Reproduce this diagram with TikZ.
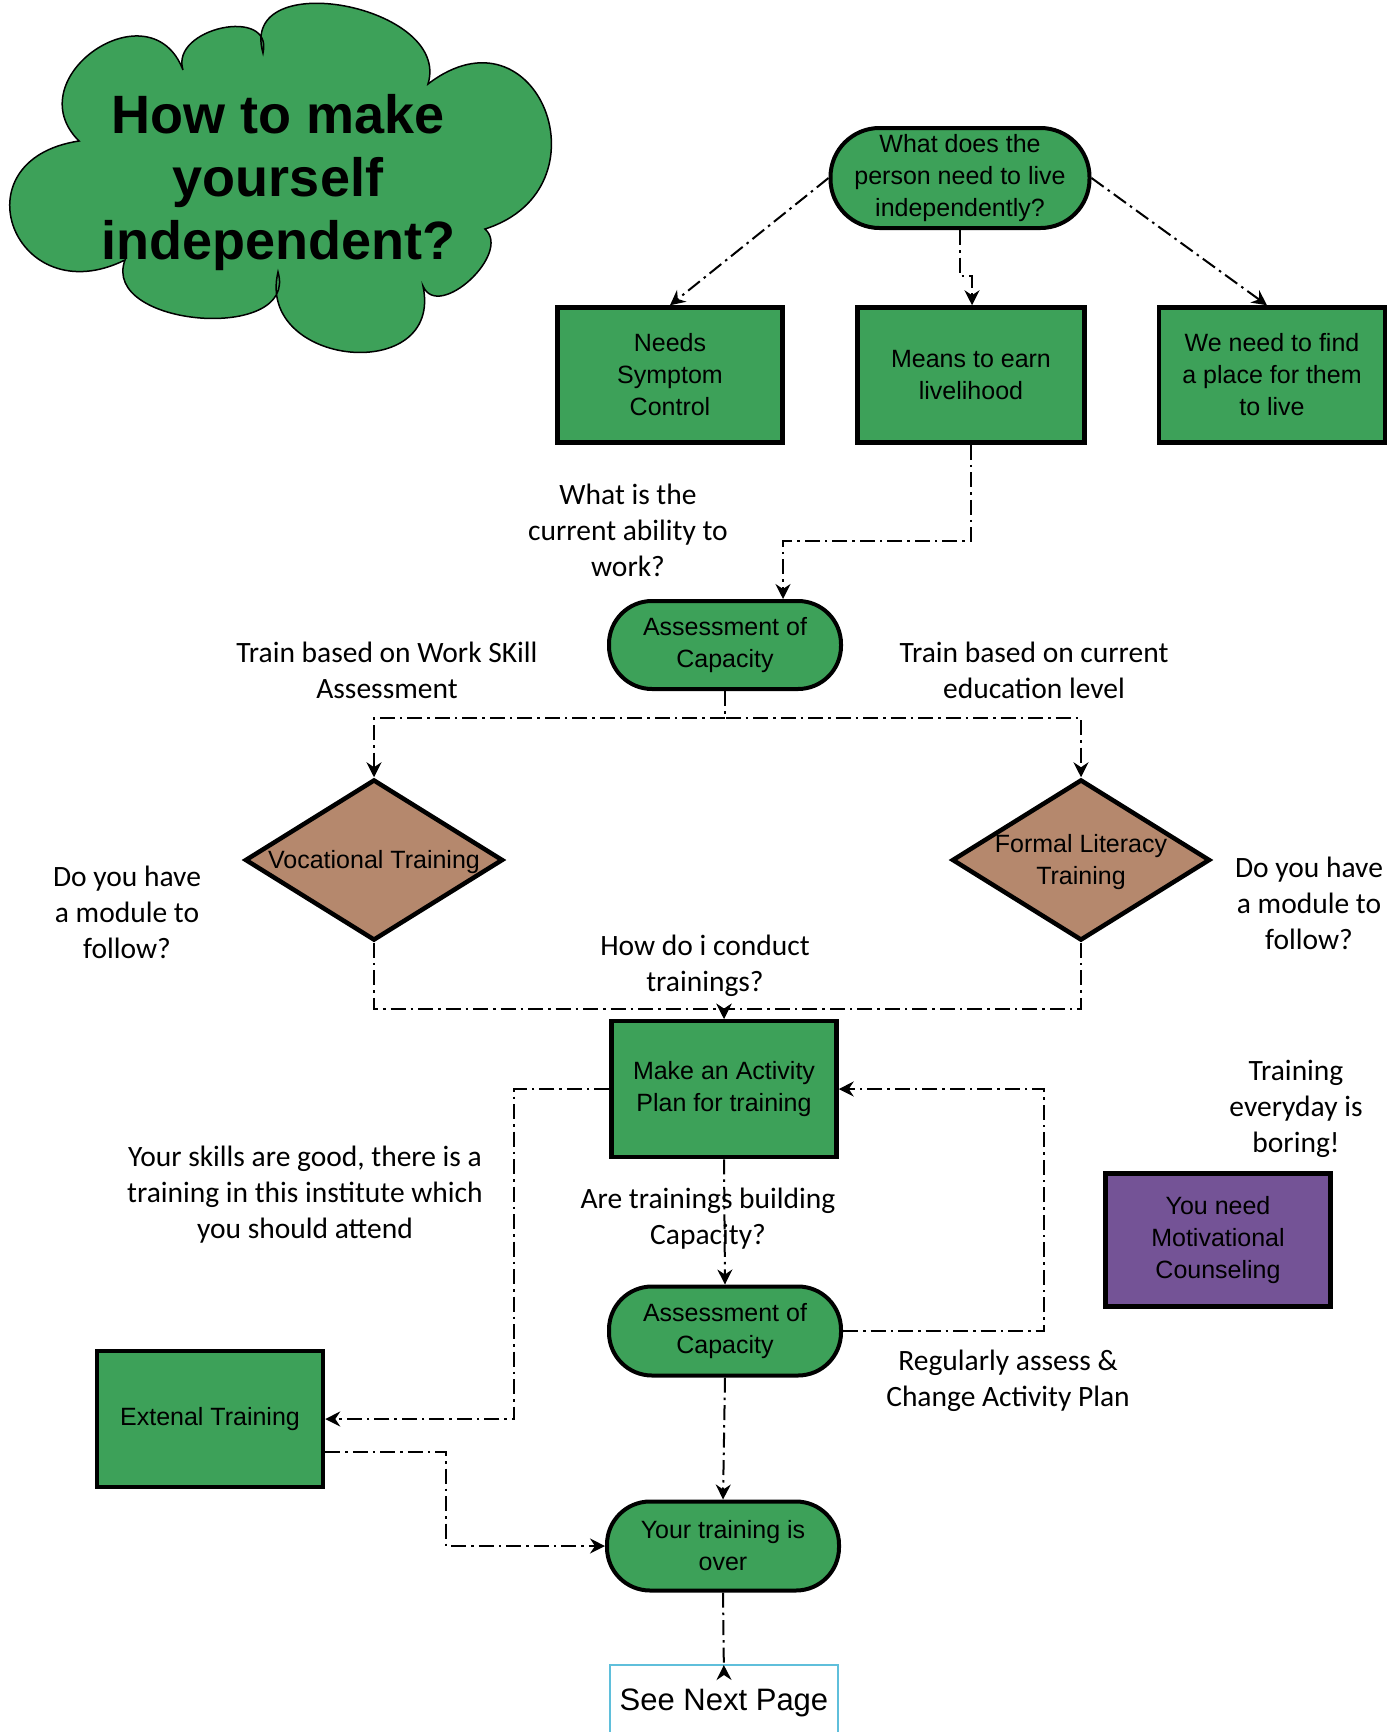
\documentclass[tikz,border=0pt]{standalone}
\usepackage{fontspec}
\setmainfont{Liberation Sans}
\newfontfamily\calfont{Carlito}
\usetikzlibrary{shapes.geometric,arrows.meta}
\definecolor{boxgreen}{RGB}{61,161,89}
\definecolor{diabrown}{RGB}{181,136,109}
\definecolor{motpurple}{RGB}{116,83,150}
\definecolor{pageblue}{RGB}{95,191,219}
\tikzset{
  boxtxt/.style={font=\fontsize{25}{32}\selectfont, align=center, text=black},
  sqbox/.style={boxtxt, draw=black, line width=4.5pt, fill=boxgreen, minimum width=225pt, minimum height=135pt, inner sep=0pt},
  pill/.style={boxtxt, draw=black, line width=4pt, fill=boxgreen, minimum width=232pt, minimum height=88pt, inner sep=0pt, rounded corners=43pt},
  dia/.style={diamond, aspect=1.6, draw=black, line width=4.5pt, fill=diabrown, minimum width=258pt, minimum height=161pt, inner sep=0pt},
  diatxt/.style={boxtxt, inner sep=0pt},
  lbl/.style={font=\calfont\fontsize{29.5}{36}\selectfont, align=center, text=black, inner sep=0pt},
  conn/.style={line width=2pt, dash pattern=on 15pt off 5pt on 2.5pt off 5pt},
  tip/.style={-{Stealth[length=15pt,width=15pt,inset=5pt]}},
}
\begin{document}
\begin{tikzpicture}[x=1pt,y=-1pt]
\useasboundingbox (0,0) rectangle (1400,1732);

% cloud
\draw[line width=1.5pt, fill=boxgreen]
  (79,141) .. controls (15.4,77.7) and (150.6,-14.7) .. (183,70)
  .. controls (169.7,27.9) and (273.7,5.8) .. (263,53)
  .. controls (237.6,-35) and (452,5.4) .. (428,84)
  .. controls (537.5,0.25) and (611.5,188.75) .. (485,229)
  .. controls (512.5,253.3) and (438.1,321.7) .. (423,286)
  .. controls (444,385.4) and (255.5,367.2) .. (278,272)
  .. controls (299,343.1) and (100,327.5) .. (125,260)
  .. controls (14.6,314.6) and (-45.2,159.9) .. (79,141) -- cycle;
\node[font=\bfseries\fontsize{54}{63}\selectfont, align=center, inner sep=0pt] (title) at (278,183) {How to make\\yourself\\independent?};

% nodes
\node[pill, minimum width=259pt, minimum height=100pt, rounded corners=49pt] (q) at (960,178) {What does the\\person need to live\\independently?};
\node[sqbox] (needs) at (670,375) {Needs\\Symptom\\Control};
\node[sqbox, minimum width=227pt] (means) at (971,375) {Means to earn\\livelihood};
\node[sqbox, minimum width=226pt] (place) at (1272,375) {We need to find\\a place for them\\to live};
\node[pill] (ac1) at (725,645) {Assessment of\\Capacity};
\node[dia] (voc) at (374,860) {};
\node[diatxt] (voct) at ([yshift=-2pt]voc.center) {Vocational Training};
\node[dia] (lit) at (1081,860) {};
\node[diatxt] (litt) at ([yshift=-2pt]lit.center) {Formal Literacy\\Training};
\node[sqbox, minimum height=136pt] (plan) at (724,1089) {Make an Activity\\Plan for training};
\node[pill, minimum height=89pt] (ac2) at (725,1331) {Assessment of\\Capacity};
\node[sqbox, minimum width=226pt, minimum height=136pt] (ext) at (210,1419) {Extenal Training};
\node[pill, minimum height=89pt] (over) at (723,1546) {Your training is\\over};
\node[sqbox, fill=motpurple, minimum height=133pt] (mot) at (1218,1240) {You need\\Motivational\\Counseling};
\node[draw=pageblue, line width=2pt, minimum width=228pt, minimum height=76pt, inner sep=0pt, font=\fontsize{31}{36}\selectfont] (next) at (724,1703) {See Next Page};

% labels
\node[lbl] (l1) at (628,530) {What is the\\current ability to\\work?};
\node[lbl] (l2) at (387,670) {Train based on Work SKill\\Assessment};
\node[lbl] (l3) at (1034,670) {Train based on current\\education level};
\node[lbl] (l4) at (127,912) {Do you have\\a module to\\follow?};
\node[lbl] (l5) at (1309,903) {Do you have\\a module to\\follow?};
\node[lbl] (l6) at (705,966) {How do i conduct\\trainings?};
\node[lbl] (l7) at (305,1195) {Your skills are good, there is a\\training in this institute which\\you should attend};
\node[lbl] (l8) at (708,1219) {Are trainings building\\Capacity?};
\node[lbl] (l9) at (1008,1381) {Regularly assess \&\\Change Activity Plan};
\node[lbl] (l10) at (1296,1109) {Training\\everyday is\\boring!};

% connectors
\draw[conn, tip] (q.west) -- (needs.north);
\draw[conn, tip] (q.south) -- ++(0,46) -| ([xshift=1pt]means.north);
\draw[conn, tip] (q.east) -- ([xshift=-5pt]place.north);
\draw[conn, tip] (means.south) -- ++(0,96) -| ([xshift=58pt]ac1.north);
\draw[conn, tip] (ac1.south) -- ++(0,27) -| (voc.north);
\draw[conn, tip] (ac1.south) -- ++(0,27) -| (lit.north);
\draw[conn, tip] (voc.south) -- ++(0,66) -| (plan.north);
\draw[conn, tip] (lit.south) -- ++(0,66) -| (plan.north);
\draw[conn, tip] (plan.south) -- (ac2.north);
\draw[conn, tip] (ac2.east) -- ++(201,0) |- (plan.east);
\draw[conn, tip] (plan.west) -- ++(-95,0) |- (ext.east);
\draw[conn, tip] ([yshift=-33pt]ext.east) -- ++(121,0) |- (over.west);
\draw[conn, tip] (ac2.south) -- (over.north);
\draw[conn, -{Stealth[length=15pt,width=15pt,inset=5pt,reversed]}] (over.south) -- ([yshift=-16pt]next.north);
\end{tikzpicture}
\end{document}
